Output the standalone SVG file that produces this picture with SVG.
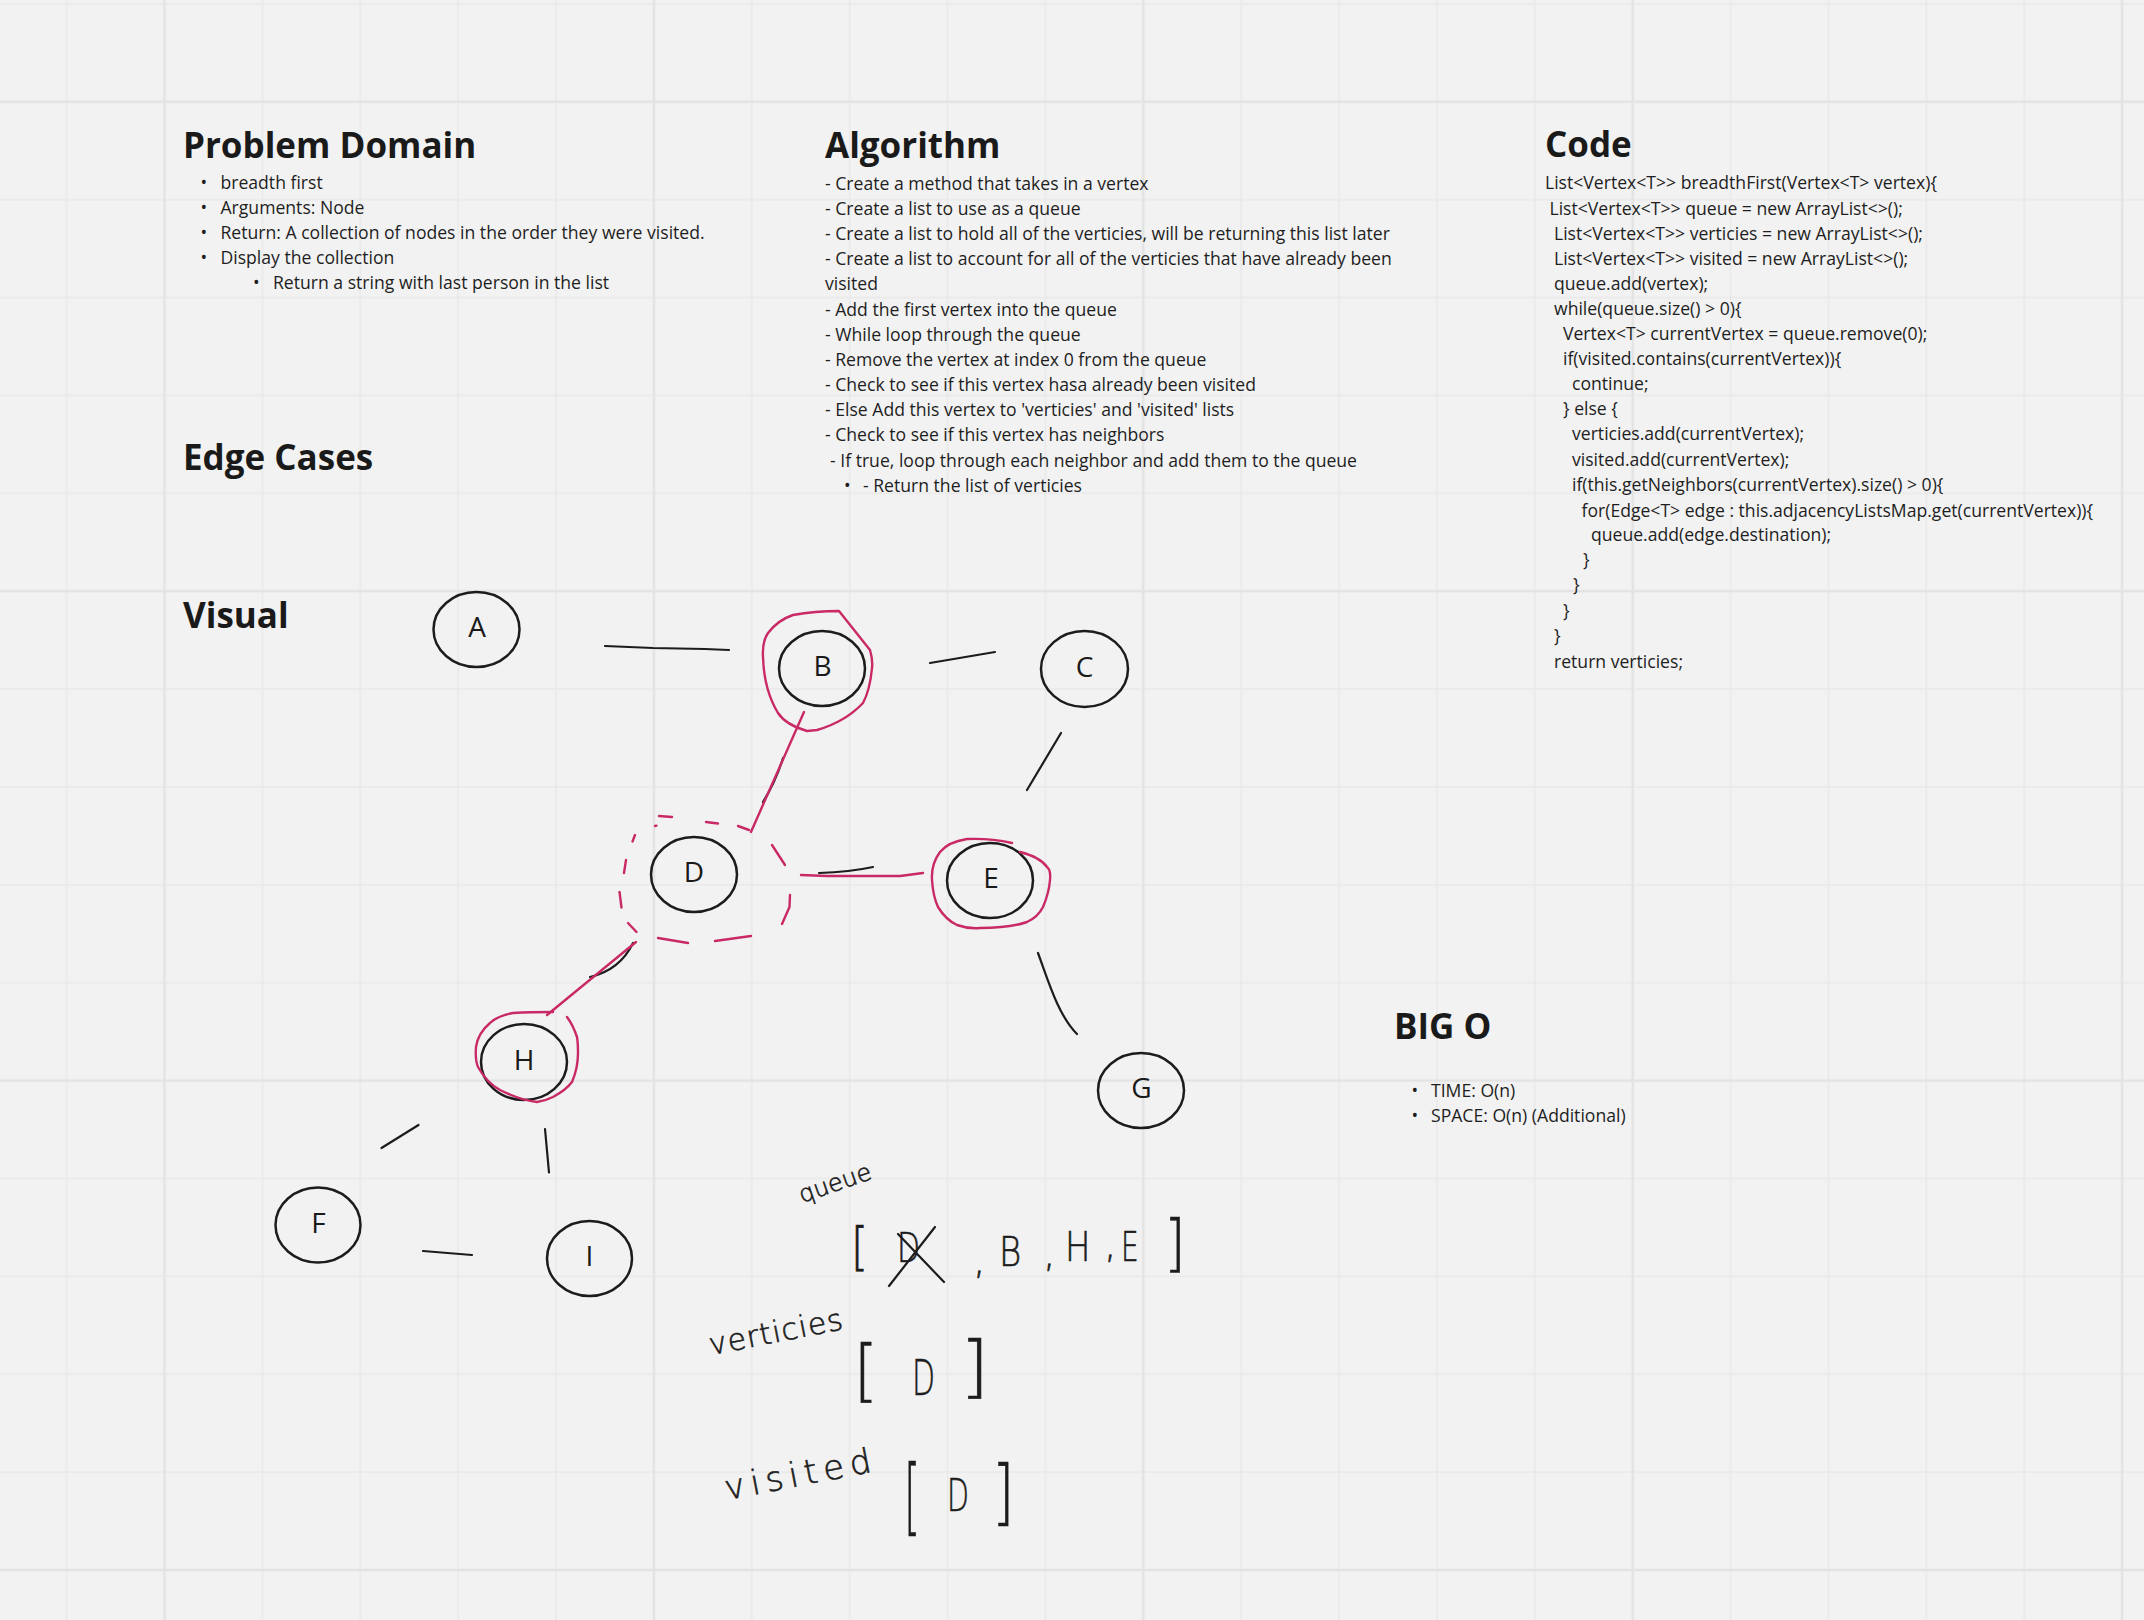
<svg xmlns="http://www.w3.org/2000/svg" width="2144" height="1620" viewBox="0 0 2144 1620">
<defs>
<pattern id="grid" patternUnits="userSpaceOnUse" x="-80.2" y="-142.9" width="489.4" height="489.4">
<g stroke="#e9e9e9" stroke-width="1.5">
<line x1="48.94" y1="0" x2="48.94" y2="489.4"/>
<line x1="146.82" y1="0" x2="146.82" y2="489.4"/>
<line x1="342.58" y1="0" x2="342.58" y2="489.4"/>
<line x1="440.46" y1="0" x2="440.46" y2="489.4"/>
<line y1="48.94" x1="0" y2="48.94" x2="489.4"/>
<line y1="146.82" x1="0" y2="146.82" x2="489.4"/>
<line y1="342.58" x1="0" y2="342.58" x2="489.4"/>
<line y1="440.46" x1="0" y2="440.46" x2="489.4"/>
</g>
<g stroke="#e3e3e3" stroke-width="2.5">
<line x1="244.7" y1="0" x2="244.7" y2="489.4"/>
<line y1="244.7" x1="0" y2="244.7" x2="489.4"/>
</g>
</pattern>
</defs>
<style>
.h{font-family:"Open Sans","Noto Sans","Liberation Sans",sans-serif;font-weight:700;font-size:35px;fill:#1a1a1a}
.t{font-family:"Open Sans","Noto Sans","Liberation Sans",sans-serif;font-size:17.6px;fill:#1e1e1e}
.nd{fill:none;stroke:#1c1c1c;stroke-width:2.5}
.lb{font-family:"Open Sans","Noto Sans","Liberation Sans",sans-serif;font-size:28px;fill:#1a1a1a;text-anchor:middle}
.ln{fill:none;stroke:#1c1c1c;stroke-width:2.2;stroke-linecap:round}
.pk{fill:none;stroke:#c92a65;stroke-width:2.4;stroke-linecap:round;stroke-linejoin:round}
.hw{font-family:"DejaVu Sans","Liberation Sans",sans-serif;font-weight:200;fill:#1c1c1c;stroke:#1c1c1c;stroke-width:0.6}
</style>
<rect width="2144" height="1620" fill="#f2f2f2"/>
<rect width="2144" height="1620" fill="url(#grid)"/>

<g id="problem-domain">
<text class="h" x="183" y="158">Problem Domain</text>
<text class="t" x="200.5" y="189">•</text><text class="t" x="220.5" y="189">breadth first</text>
<text class="t" x="200.5" y="214">•</text><text class="t" x="220.5" y="214">Arguments: Node</text>
<text class="t" x="200.5" y="239">•</text><text class="t" x="220.5" y="239">Return: A collection of nodes in the order they were visited.</text>
<text class="t" x="200.5" y="264">•</text><text class="t" x="220.5" y="264">Display the collection</text>
<text class="t" x="253" y="289">•</text><text class="t" x="273" y="289">Return a string with last person in the list</text>
</g>

<g id="edge-cases"><text class="h" x="183" y="470">Edge Cases</text></g>
<g id="visual-title"><text class="h" x="183" y="628">Visual</text></g>

<g id="algorithm">
<text class="h" x="825" y="158">Algorithm</text>
<text class="t" x="825" y="190">- Create a method that takes in a vertex</text>
<text class="t" x="825" y="215">- Create a list to use as a queue</text>
<text class="t" x="825" y="240">- Create a list to hold all of the verticies, will be returning this list later</text>
<text class="t" x="825" y="265">- Create a list to account for all of the verticies that have already been</text>
<text class="t" x="825" y="290">visited</text>
<text class="t" x="825" y="316">- Add the first vertex into the queue</text>
<text class="t" x="825" y="341">- While loop through the queue</text>
<text class="t" x="825" y="366">- Remove the vertex at index 0 from the queue</text>
<text class="t" x="825" y="391">- Check to see if this vertex hasa already been visited</text>
<text class="t" x="825" y="416">- Else Add this vertex to 'verticies' and 'visited' lists</text>
<text class="t" x="825" y="441">- Check to see if this vertex has neighbors</text>
<text class="t" x="830" y="467">- If true, loop through each neighbor and add them to the queue</text>
<text class="t" x="844" y="492">•</text><text class="t" x="863" y="492">- Return the list of verticies</text>
</g>

<g id="code">
<text class="h" x="1545" y="157">Code</text>
<text class="t" x="1545" y="189">List&lt;Vertex&lt;T&gt;&gt; breadthFirst(Vertex&lt;T&gt; vertex){</text>
<text class="t" x="1549.5" y="215">List&lt;Vertex&lt;T&gt;&gt; queue = new ArrayList&lt;&gt;();</text>
<text class="t" x="1554" y="239.5">List&lt;Vertex&lt;T&gt;&gt; verticies = new ArrayList&lt;&gt;();</text>
<text class="t" x="1554" y="264.5">List&lt;Vertex&lt;T&gt;&gt; visited = new ArrayList&lt;&gt;();</text>
<text class="t" x="1554" y="289.5">queue.add(vertex);</text>
<text class="t" x="1554" y="315">while(queue.size() &gt; 0){</text>
<text class="t" x="1563" y="340">Vertex&lt;T&gt; currentVertex = queue.remove(0);</text>
<text class="t" x="1563" y="365">if(visited.contains(currentVertex)){</text>
<text class="t" x="1572" y="390">continue;</text>
<text class="t" x="1563" y="415">} else {</text>
<text class="t" x="1572" y="440">verticies.add(currentVertex);</text>
<text class="t" x="1572" y="465.5">visited.add(currentVertex);</text>
<text class="t" x="1572" y="491">if(this.getNeighbors(currentVertex).size() &gt; 0){</text>
<text class="t" x="1581.5" y="516.5">for(Edge&lt;T&gt; edge : this.adjacencyListsMap.get(currentVertex)){</text>
<text class="t" x="1591" y="541">queue.add(edge.destination);</text>
<text class="t" x="1583" y="566">}</text>
<text class="t" x="1573" y="591">}</text>
<text class="t" x="1563" y="616.5">}</text>
<text class="t" x="1554" y="642">}</text>
<text class="t" x="1554" y="667.5">return verticies;</text>
</g>

<g id="big-o">
<text class="h" x="1394" y="1039">BIG O</text>
<text class="t" x="1411.5" y="1097">•</text><text class="t" x="1431" y="1097">TIME: O(n)</text>
<text class="t" x="1411.5" y="1122">•</text><text class="t" x="1431" y="1122">SPACE: O(n) (Additional)</text>
</g>

<g id="connectors">
<polyline class="ln" points="605,646 653,648 705,649 729,650"/>
<line class="ln" x1="930" y1="663" x2="995" y2="652"/>
<line class="ln" x1="1061" y1="733" x2="1027" y2="790"/>
<path class="ln" d="M1038,953 C1048,980 1058,1015 1077,1034"/>
<line class="ln" x1="418.5" y1="1125" x2="381.5" y2="1148"/>
<line class="ln" x1="545" y1="1129" x2="549" y2="1172.5"/>
<line class="ln" x1="423" y1="1251" x2="472" y2="1255"/>
<path class="ln" d="M783,758 Q776,781 763,802"/>
<path class="ln" d="M819,873 Q850,872 873,867"/>
<path class="ln" d="M633,943 Q620,970 590,977"/>
<line class="pk" x1="804" y1="712" x2="751" y2="832"/>
<polyline class="pk" points="801,875 827,876 900,876 923,873"/>
<line class="pk" x1="636" y1="942" x2="547" y2="1015"/>
</g>

<g id="node-A">
<ellipse class="nd" cx="476.5" cy="629.5" rx="43" ry="37.5"/>
<text class="lb" x="477" y="637">A</text>
</g>
<g id="node-B">
<ellipse class="nd" cx="822" cy="668.5" rx="43" ry="37.5"/>
<text class="lb" x="822.5" y="676">B</text>
<path class="pk" d="M839,611 L870,650 Q873,660 872,668 Q870,690 863,703 Q845,722 817,730 L807,731 Q786,725 778,713 Q764,690 763,657 Q762,642 768,633 Q778,620 793,615 Q815,611 839,611 Z"/>
</g>
<g id="node-C">
<ellipse class="nd" cx="1084.5" cy="669" rx="43.5" ry="38"/>
<text class="lb" x="1084.5" y="677">C</text>
</g>
<g id="node-D">
<ellipse class="nd" cx="694" cy="874.5" rx="43" ry="37.5"/>
<text class="lb" x="694" y="882">D</text>
<g class="pk">
<line x1="659" y1="816" x2="672" y2="817"/>
<line x1="655" y1="826" x2="656.5" y2="825.6"/>
<line x1="706" y1="822" x2="718" y2="823.5"/>
<line x1="738" y1="826" x2="749" y2="830"/>
<line x1="635" y1="835" x2="632.5" y2="841.5"/>
<line x1="772" y1="845" x2="785" y2="865"/>
<line x1="626" y1="860" x2="624" y2="873"/>
<line x1="619.5" y1="892" x2="621.5" y2="907.5"/>
<polyline points="790,895 789.5,907 782,924"/>
<line x1="628" y1="923" x2="636.5" y2="932"/>
<line x1="658" y1="938" x2="688" y2="943"/>
<line x1="715" y1="941" x2="751" y2="936"/>
</g>
</g>
<g id="node-E">
<ellipse class="nd" cx="990" cy="880.5" rx="43" ry="37.5"/>
<text class="lb" x="991" y="888">E</text>
<path class="pk" d="M1012,843 Q990,838 967,839 Q948,842 940,852 Q931,864 932,880 Q933,896 938,907 Q946,920 957,925 Q968,929 980,928 Q1010,928 1027,922 Q1038,917 1043,907 Q1049,893 1050,880 Q1051,870 1047,867 Q1040,857 1020,852"/>
</g>
<g id="node-G">
<ellipse class="nd" cx="1141" cy="1090.5" rx="43" ry="37.5"/>
<text class="lb" x="1141.5" y="1098">G</text>
</g>
<g id="node-H">
<ellipse class="nd" cx="524" cy="1062" rx="43" ry="38"/>
<text class="lb" x="524" y="1069.5">H</text>
<path class="pk" d="M553,1012 Q530,1012 513,1013 Q497,1016 490,1023 Q478,1033 476,1047 Q475,1060 478,1067 Q487,1083 500,1090 Q520,1100 537,1102 Q545,1101 553,1097 Q566,1090 572,1082 Q578,1068 578,1053 Q578,1043 577,1037 Q573,1025 567,1017"/>
</g>
<g id="node-F">
<ellipse class="nd" cx="318" cy="1225" rx="42.5" ry="37.5"/>
<text class="lb" x="318.5" y="1233">F</text>
</g>
<g id="node-I">
<ellipse class="nd" cx="589.5" cy="1258.5" rx="42.5" ry="37.5"/>
<text class="lb" x="589.5" y="1266">I</text>
</g>

<g id="handwriting">
<text class="hw" font-size="24" transform="translate(802,1203) rotate(-19)">queue</text>
<text class="hw" font-size="30" letter-spacing="1" transform="translate(711,1355) rotate(-11)">verticies</text>
<text class="hw" font-size="34" letter-spacing="6" transform="translate(727,1500) rotate(-11)">visited</text>

<text class="hw" font-size="52" transform="translate(851,1264) scale(0.85,1)">[</text>
<text class="hw" font-size="40" transform="translate(897,1262) scale(0.75,1)">D</text>
<text class="hw" font-size="40" x="973" y="1273">,</text>
<text class="hw" font-size="40" transform="translate(999,1266) scale(0.85,1)">B</text>
<text class="hw" font-size="40" x="1043" y="1266">,</text>
<text class="hw" font-size="40" transform="translate(1065,1261) scale(0.85,1)">H</text>
<text class="hw" font-size="40" x="1104" y="1257">,</text>
<text class="hw" font-size="40" transform="translate(1121,1261) scale(0.7,1)">E</text>
<text class="hw" font-size="62" transform="translate(1164,1264) scale(0.9,1)">]</text>
<g class="ln" stroke-width="2">
<line x1="889" y1="1286" x2="935" y2="1227"/>
<line x1="898" y1="1234" x2="944" y2="1282"/>
</g>

<text class="hw" font-size="68" transform="translate(854,1394) scale(0.9,1)">[</text>
<text class="hw" font-size="50" transform="translate(912,1395) scale(0.6,1)">D</text>
<text class="hw" font-size="68" transform="translate(960,1390) scale(1.1,1)">]</text>

<text class="hw" font-size="84" transform="translate(904,1525) scale(0.5,1)">[</text>
<text class="hw" font-size="44" transform="translate(947,1511) scale(0.65,1)">D</text>
<text class="hw" font-size="72" transform="translate(992,1516) scale(0.8,1)">]</text>
</g>
</svg>
